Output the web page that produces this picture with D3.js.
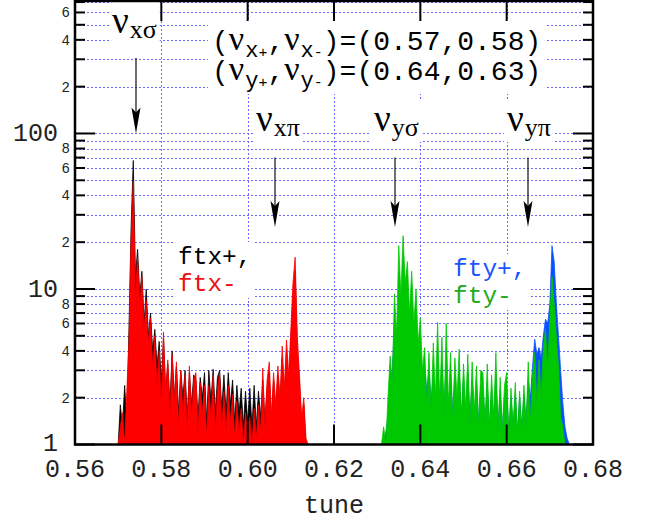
<!DOCTYPE html>
<html>
<head>
<meta charset="utf-8">
<script src="https://cdn.jsdelivr.net/npm/d3@7"></script>
<style>
  body { margin: 0; background: #fff; }
  svg { display: block; }
</style>
</head>
<body>
<svg id="chart" width="652" height="522"></svg>
<script>
// Datos (espectros, paso 0.0005 en tune)
const tune_step = 0.0005
const ftx_start = 0.5700
const fty_start = 0.6310

const ftx_plus = [1.0, 1.8, 1.3, 2.4, 1.4, 5.5, 25, 67, 12, 18,
  9, 13, 6, 10, 5, 7, 4, 5.5, 3.2, 4.6,
  2.5, 4.8, 2.2, 3.3, 1.8, 4, 2.0, 3.2, 1.6, 3,
  2.0, 3.0, 1.5, 2.9, 1.8, 2.8, 2.6, 1.5, 2.7, 2.0,
  2.9, 1.4, 3.0, 1.9, 3.05, 1.6, 2.7, 3.0, 1.7, 2.8,
  1.6, 2.9, 1.8, 2.6, 1.4, 2.4, 1.6, 2.3, 1.3, 2.2,
  1.4, 2.3, 1.3, 2.4, 1.3, 2.2, 1.5, 2.6, 1.4, 2.3,
  2.9, 1.4, 2.6, 1.6, 2.8, 1.8, 3.6, 2.0, 4.0, 2.4,
  4.6, 9, 13, 4, 2.5, 1.3, 1.8, 1.0, 0.9]

const ftx_minus = [0.9, 1.3, 1.6, 0.9, 2.2, 4.5, 21, 49, 9, 16,
  8, 12, 5.5, 8.5, 4.5, 6.5, 3.2, 5, 2.4, 4,
  1.8, 5.3, 2.2, 3.5, 1.5, 3.8, 1.9, 3.4, 1.3, 3,
  1.6, 2.8, 1.2, 3.2, 1.5, 2.6, 2.9, 1.2, 2.5, 1.6,
  2.4, 1.1, 2.4, 1.5, 2.8, 1.2, 2.3, 2.9, 1.3, 2.2,
  1.2, 2.4, 1.4, 2.1, 1.1, 1.9, 1.2, 1.7, 1.0, 1.6,
  1.1, 1.5, 1.0, 1.7, 1.1, 1.8, 1.2, 3.1, 1.3, 2.6,
  3.4, 1.5, 2.9, 1.8, 3.2, 2.0, 4.3, 2.3, 4.7, 2.8,
  5.5, 11, 16, 5, 2.8, 1.5, 2.0, 1.1, 0.9]

const fty_plus = [0.8, 0.9, 1.2, 1.5, 2.5, 3, 6, 4, 9, 7,
  12, 8, 7, 6, 5, 5, 4.5, 3, 3, 2.6,
  3.2, 2.2, 3, 1.9, 2.8, 1.8, 3.6, 1.7, 3.3, 1.7,
  3.5, 1.6, 2.9, 1.6, 2.8, 1.5, 3.0, 1.5, 2.7, 1.5,
  2.9, 1.5, 2.6, 1.4, 2.5, 1.4, 2.4, 2.3, 1.4, 2.5,
  1.3, 2.2, 1.4, 2.8, 1.3, 2.2, 1.3, 2.0, 2.3, 1.2,
  2.0, 1.3, 2.1, 1.2, 2.0, 1.3, 2.1, 1.4, 2.6, 2.0,
  3.2, 4.75, 3.8, 4.2, 3.6, 5, 6.4, 6, 8, 19,
  15, 8.2, 5, 3, 1.86, 1.3, 1.1, 0.9, 0.8]

const fty_minus = [0.9, 1.3, 0.9, 2.0, 3.7, 2.5, 9.3, 5, 19, 9,
  22, 11, 15, 7, 13, 6, 10, 4.5, 6.5, 3,
  4.2, 1.8, 3.9, 1.6, 4.5, 2.0, 6.1, 1.9, 4.9, 1.5,
  6, 1.8, 3.9, 1.4, 3.6, 2.0, 4.1, 1.4, 3.3, 1.7,
  3.8, 1.3, 3.4, 1.6, 3.2, 1.3, 3, 2.9, 1.3, 3.3,
  1.2, 2.8, 1.5, 3.9, 1.2, 2.7, 1.2, 2.4, 2.9, 1.1,
  2.3, 1.3, 2.5, 1.1, 2.2, 1.2, 2.4, 1.3, 3.4, 1.4,
  2.8, 3.9, 1.8, 3.5, 2.0, 4.2, 5.5, 3.0, 6.5, 12,
  8, 5, 3.2, 1.5, 1.3, 0.9, 0.8, 0.8, 0.8]

// Ticks
const x_ticks = [0.56, 0.58, 0.60, 0.62, 0.64, 0.66, 0.68]
const y_major = [1, 10, 100]
const y_minor = [2, 3, 4, 5, 6, 7, 8, 9, 20, 30, 40, 50, 60, 70, 80, 90,
  200, 300, 400, 500, 600, 700]
const y_minor_labels = [2, 4, 6, 8, 20, 40, 60, 80, 200, 400, 600]

// Flechas: tune, valor inicio, valor punta
const arrow_tune = [0.57413, 0.60633, 0.63413, 0.66494]
const arrow_from = [306, 70, 70, 70]
const arrow_to = [100, 25, 25, 25]

// Fuentes
const mono = "'Liberation Mono', monospace"
const serif = "'Liberation Serif', serif"
const grid_color = '#6b6bff'

const svg = d3.select('#chart')
const p_left = 75, p_right = 593, p_top = 1, p_bottom = 444.5

const x = d3.scaleLinear().domain([0.56, 0.68]).range([p_left, p_right])
const y = d3.scaleLog().domain([1, 711]).range([p_bottom, p_top]).clamp(true)

// Convierte la lista de valores en puntos
const to_points = (values, start) => values.map((v, i) => ({ t: start + i * tune_step, v: v }))

// Rejilla
const grid = svg.append('g').attr('shape-rendering', 'crispEdges')
grid.selectAll('.hgrid')
  .data(y_minor.concat([10, 100]).filter(d => d < 711))
  .enter().append('line')
  .attr('x1', p_left).attr('x2', p_right)
  .attr('y1', d => Math.round(y(d)) + 0.5).attr('y2', d => Math.round(y(d)) + 0.5)
  .attr('stroke', grid_color).attr('stroke-width', 1)
  .attr('stroke-dasharray', '2,2')
grid.selectAll('.vgrid')
  .data(x_ticks.slice(1, -1))
  .enter().append('line')
  .attr('x1', d => Math.round(x(d)) + 0.5).attr('x2', d => Math.round(x(d)) + 0.5)
  .attr('y1', p_top).attr('y2', p_bottom)
  .attr('stroke', grid_color).attr('stroke-width', 1)
  .attr('stroke-dasharray', '2,2')

// Espectros
const area = d3.area()
  .x(d => x(d.t))
  .y0(y(1))
  .y1(d => y(d.v))

const series = [
  { data: to_points(ftx_plus, ftx_start), color: '#000000' },
  { data: to_points(ftx_minus, ftx_start), color: '#ff0000' },
  { data: to_points(fty_plus, fty_start), color: '#0a50ff' },
  { data: to_points(fty_minus, fty_start), color: '#00c800' }
]
svg.append('g').selectAll('path')
  .data(series)
  .enter().append('path')
  .attr('d', d => area(d.data))
  .attr('fill', d => d.color)
  .attr('stroke', d => d.color)
  .attr('stroke-width', 0.8)

// Texto con varias partes (texto, fuente, tamaño, dy, dx)
const add_text = (g, px, py, parts, color) => {
  const t = g.append('text').attr('x', px).attr('y', py).attr('fill', color || '#000')
  parts.forEach(p => {
    t.append('tspan')
      .attr('font-family', p[1])
      .attr('font-size', p[2])
      .attr('dy', p[3] || 0)
      .attr('dx', p[4] || 0)
      .text(p[0])
  })
  return t
}

// Caja blanca detras de una etiqueta
const boxed = (px, py, parts, color, pad) => {
  const g = svg.append('g')
  const rect = g.append('rect').attr('fill', '#fff')
  const t = add_text(g, px, py, parts, color)
  const b = t.node().getBBox()
  rect.attr('x', b.x - pad).attr('y', b.y + 2)
    .attr('width', b.width + 2 * pad).attr('height', b.height - 2)
  return g
}

// Etiquetas nu
const nu_label = (px, py, sub) => boxed(px, py, [
  ['ν', serif, 37],
  [sub, serif, 26, 5, 1]
], '#000', 3)

nu_label(112, 33, 'xσ')
nu_label(256, 131, 'xπ')
nu_label(374, 131, 'yσ')
nu_label(507, 131, 'yπ')

// Flechas
arrow_tune.forEach((t, i) => {
  const ax = x(t)
  const tip = y(arrow_to[i])
  svg.append('line')
    .attr('x1', ax).attr('x2', ax)
    .attr('y1', y(arrow_from[i])).attr('y2', tip - 20)
    .attr('stroke', '#222').attr('stroke-width', 1.3)
  svg.append('path')
    .attr('d', `M${ax},${tip} L${ax - 4.5},${tip - 26} L${ax},${tip - 21} L${ax + 4.5},${tip - 26} Z`)
    .attr('fill', '#000')
})

// Tunes
const header = svg.append('g')
const header_bg = header.append('rect').attr('fill', '#fff')
add_text(header, 212, 50, [
  ['(', mono, 28], ['ν', serif, 34], ['x', mono, 22, 7, 1], ['+', mono, 15],
  [',', mono, 28, -7], ['ν', serif, 34], ['x', mono, 22, 7, 1], ['-', mono, 15],
  [')=(0.57,0.58)', mono, 28, -7]
])
add_text(header, 212, 80, [
  ['(', mono, 28], ['ν', serif, 34], ['y', mono, 22, 7, 1], ['+', mono, 15],
  [',', mono, 28, -7], ['ν', serif, 34], ['y', mono, 22, 7, 1], ['-', mono, 15],
  [')=(0.64,0.63)', mono, 28, -7]
])
const hb = header.node().getBBox()
header_bg.attr('x', hb.x - 4).attr('y', hb.y).attr('width', hb.width + 8).attr('height', hb.height)

// Leyendas (dos lineas en un mismo texto)
const legend = (px, py, a, ca, b, cb) => {
  const g = svg.append('g')
  const bg = g.append('rect').attr('fill', '#fff')
  const t = g.append('text').attr('x', px).attr('y', py)
    .attr('font-family', mono).attr('font-size', 24.5)
  t.append('tspan').attr('fill', ca).text(a)
  t.append('tspan').attr('x', px).attr('dy', 27).attr('fill', cb).text(b)
  const bb = g.node().getBBox()
  bg.attr('x', bb.x - 3).attr('y', bb.y - 2).attr('width', bb.width + 6).attr('height', bb.height + 2)
}
legend(178, 264, 'ftx+,', '#000', 'ftx-', '#ee1111')
legend(453, 276, 'fty+,', '#1a55ff', 'fty-', '#22aa22')

// Marco
svg.append('rect')
  .attr('x', p_left).attr('y', p_top)
  .attr('width', p_right - p_left).attr('height', p_bottom - p_top)
  .attr('fill', 'none').attr('stroke', '#000').attr('stroke-width', 2.5)

// Ticks hacia adentro
const ticks = svg.append('g').attr('stroke', '#000').attr('stroke-width', 2)
const y_all = y_major.map(d => ({ v: d, len: 20 })).concat(y_minor.filter(d => d < 711).map(d => ({ v: d, len: 10 })))
ticks.selectAll('.yl').data(y_all).enter().append('line')
  .attr('x1', p_left).attr('x2', d => p_left + d.len)
  .attr('y1', d => y(d.v)).attr('y2', d => y(d.v))
ticks.selectAll('.yr').data(y_all).enter().append('line')
  .attr('x1', p_right).attr('x2', d => p_right - d.len)
  .attr('y1', d => y(d.v)).attr('y2', d => y(d.v))
ticks.selectAll('.xb').data(x_ticks).enter().append('line')
  .attr('x1', d => x(d)).attr('x2', d => x(d))
  .attr('y1', p_bottom).attr('y2', p_bottom - 20)
ticks.selectAll('.xt').data(x_ticks).enter().append('line')
  .attr('x1', d => x(d)).attr('x2', d => x(d))
  .attr('y1', p_top).attr('y2', p_top + 20)

// Etiquetas de ticks
svg.selectAll('.xlab').data(x_ticks).enter().append('text')
  .attr('x', d => x(d)).attr('y', 477)
  .attr('text-anchor', 'middle')
  .attr('font-family', mono).attr('font-size', 25)
  .attr('fill', '#222')
  .text(d => d.toFixed(2))

svg.selectAll('.ymaj').data(y_major).enter().append('text')
  .attr('x', 58).attr('y', d => y(d))
  .attr('dy', d => d == 1 ? '0.25em' : '0.32em')
  .attr('text-anchor', 'end')
  .attr('font-family', mono).attr('font-size', 25)
  .attr('fill', '#222')
  .text(d => d)

svg.selectAll('.ymin').data(y_minor_labels).enter().append('text')
  .attr('x', 70).attr('y', d => y(d))
  .attr('dy', '0.35em')
  .attr('text-anchor', 'end')
  .attr('font-family', mono).attr('font-size', 14)
  .attr('fill', '#222')
  .text(d => Math.round(d / Math.pow(10, Math.floor(Math.log10(d)))))

svg.append('text')
  .attr('x', (p_left + p_right) / 2).attr('y', 513)
  .attr('text-anchor', 'middle')
  .attr('font-family', mono).attr('font-size', 25)
  .attr('fill', '#222')
  .text('tune')
</script>
</body>
</html>
